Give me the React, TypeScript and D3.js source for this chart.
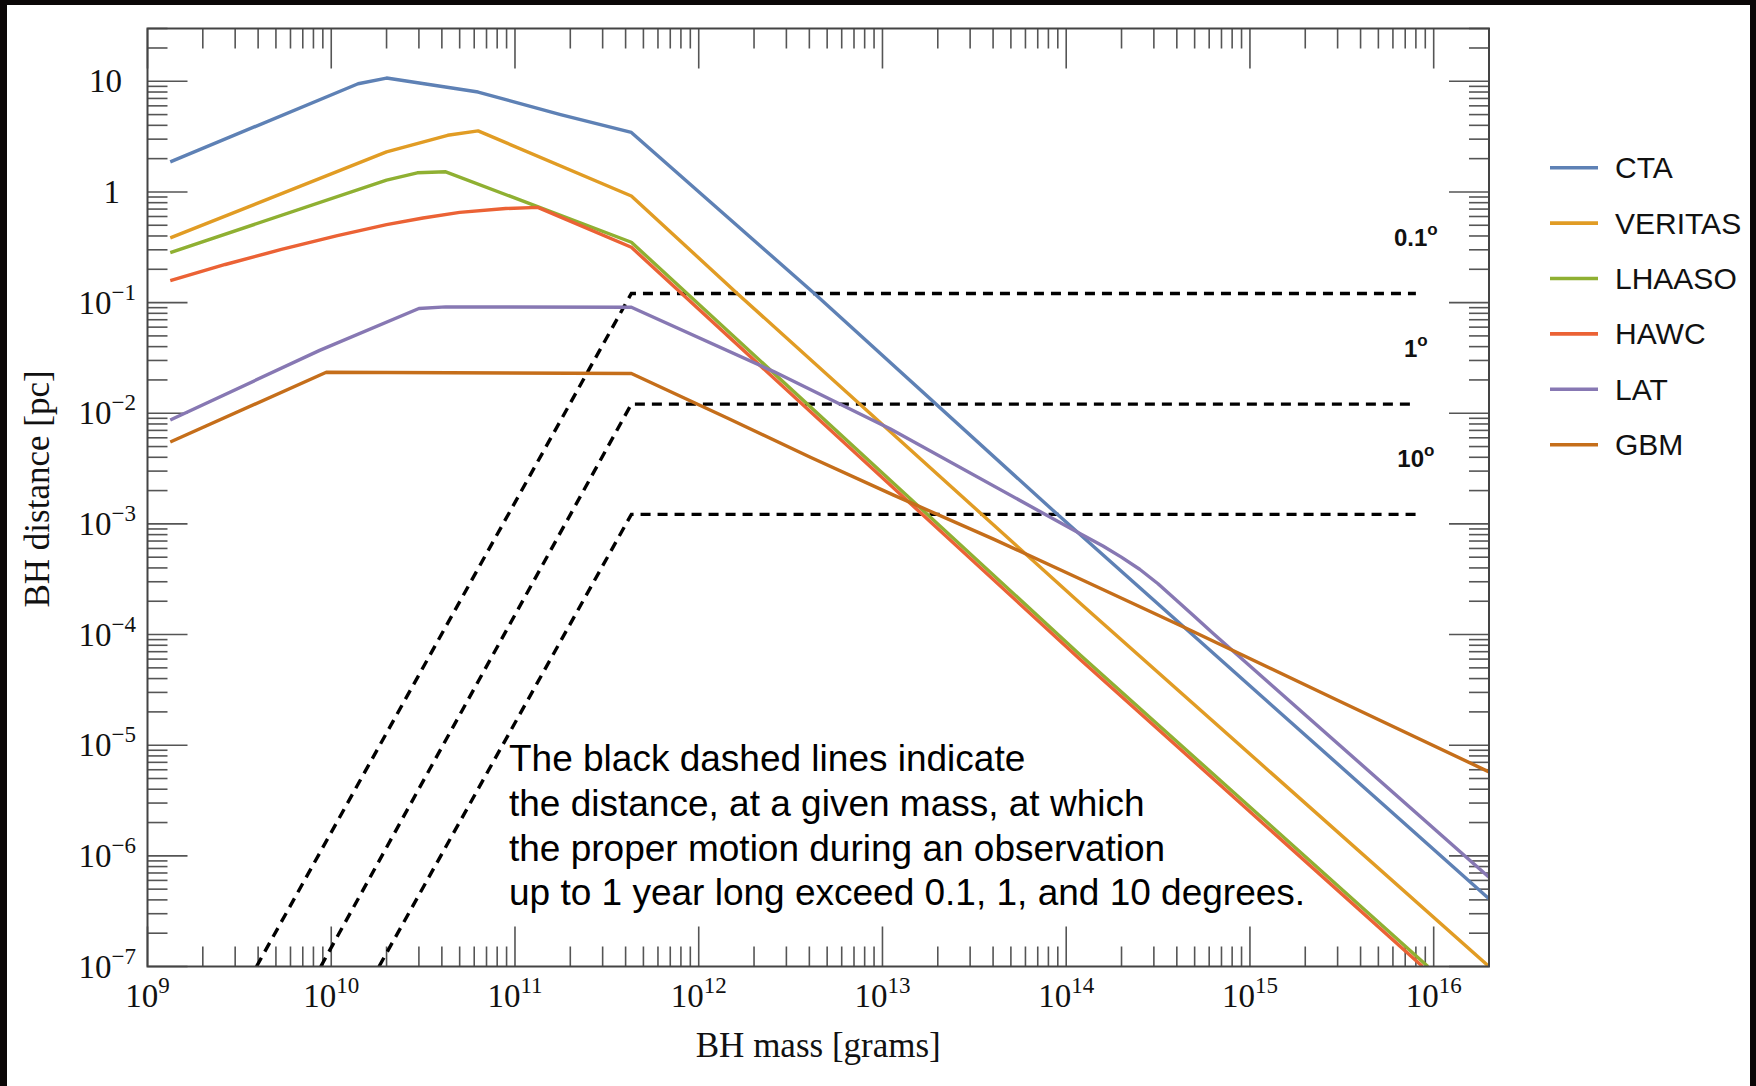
import React from 'react';
import * as d3 from 'd3';

const W = 1756;
const H = 1086;

// ---- data ----
const seriesNames = ['CTA', 'VERITAS', 'LHAASO', 'HAWC', 'LAT', 'GBM'];
const seriesColors = ['#5E81B5', '#E19C24', '#8FB032', '#EB6235', '#8778B3', '#C56E1A'];

const cta: [number, number][] = [
  [1.33e9, 1.87], [1.4e10, 9.5], [2.0e10, 10.7], [6.3e10, 8.0], [1.77e11, 5.0],
  [4.3e11, 3.45], [4.23e12, 0.122], [8.95e13, 1.22e-3], [2.0e16, 4.1e-7],
];
const veritas: [number, number][] = [
  [1.33e9, 0.384], [2.0e10, 2.3], [4.3e10, 3.25], [6.3e10, 3.56], [4.3e11, 0.92],
  [1.62e12, 0.121], [1.2e14, 1.9e-4], [2.0e16, 1.0e-7],
];
const lhaaso: [number, number][] = [
  [1.33e9, 0.283], [2.0e10, 1.28], [2.94e10, 1.49], [4.2e10, 1.52], [4.3e11, 0.351],
  [1.2e14, 6.47e-5], [9.3e15, 1.0e-7],
];
const hawc: [number, number][] = [
  [1.33e9, 0.158], [2.65e9, 0.221], [5.36e9, 0.302], [1.08e10, 0.403], [2.0e10, 0.507],
  [3.16e10, 0.582], [5.0e10, 0.653], [8.9e10, 0.708], [1.33e11, 0.726], [4.3e11, 0.316],
  [1.2e14, 5.9e-5], [8.7e15, 1.0e-7],
];
const lat: [number, number][] = [
  [1.33e9, 8.7e-3], [8.65e9, 0.037], [3.0e10, 0.0885], [4.2e10, 0.0914], [4.3e11, 0.0908],
  [2.56e12, 0.0238], [1.1e13, 7.24e-3], [1.2e14, 8.1e-4], [1.585e14, 6.31e-4],
  [1.995e14, 5.01e-4], [2.51e14, 3.89e-4], [3.16e14, 2.88e-4], [3.98e14, 2.04e-4],
  [5.01e14, 1.445e-4], [6.31e14, 1.023e-4], [2.0e16, 6.4e-7],
];
const gbm: [number, number][] = [
  [1.33e9, 5.5e-3], [9.4e9, 0.0235], [4.3e11, 0.0229], [1.43e12, 9.06e-3], [4.05e12, 4.0e-3],
  [1.15e13, 1.82e-3], [4.05e13, 7.24e-4], [1.2e14, 3.16e-4], [4.44e14, 1.15e-4],
  [2.88e15, 2.63e-5], [2.0e16, 5.74e-6],
];
const seriesData = [cta, veritas, lhaaso, hawc, lat, gbm];

const dashed01: [number, number][] = [[3.92e9, 1e-7], [4.3e11, 0.121], [8.0e15, 0.121]];
const dashed1: [number, number][] = [[8.77e9, 1e-7], [4.3e11, 0.0121], [8.0e15, 0.0121]];
const dashed10: [number, number][] = [[1.82e10, 1e-7], [4.3e11, 0.00122], [8.0e15, 0.00122]];
const dashedData = [dashed01, dashed1, dashed10];
const angleLabels = ['0.1', '1', '10'];
const angleLevels = [0.121, 0.0121, 0.00122];
const angleLabelMass = 8.0e15;

const xTickExponents = [9, 10, 11, 12, 13, 14, 15, 16];
const yTickExponents = [1, 0, -1, -2, -3, -4, -5, -6, -7];

const annotationLines = [
  'The black dashed lines indicate',
  'the distance, at a given mass, at which',
  'the proper motion during an observation',
  'up to 1 year long exceed 0.1, 1, and 10 degrees.',
];

const xTitle = 'BH mass [grams]';
const yTitle = 'BH distance [pc]';

// ---- layout ----
const L = 147.5, R = 1489, T = 28.5, B = 966.5;
const SERIF = '"Liberation Serif", "Times New Roman", serif';
const SANS = '"Liberation Sans", Arial, sans-serif';

export default function App() {
  const x = d3.scaleLog().domain([1e9, 2e16]).range([L, R]);
  const y = d3.scaleLog().domain([1e-7, 30]).range([B, T]);
  const line = d3.line<[number, number]>().x(d => x(d[0])).y(d => y(d[1]));

  const isPow10 = (v: number) => Math.abs(Math.log10(v) - Math.round(Math.log10(v))) < 1e-9;
  const xt = x.ticks(100).filter(v => v >= 1e9 && v <= 2e16);
  const yt = y.ticks(100).filter(v => v >= 1e-7 && v <= 30);
  const tickColor = '#555';
  const major = 40, minor = 20;

  return (
    <svg width={W} height={H} style={{ position: 'absolute', left: 0, top: 0 }}>
      <rect x={0} y={0} width={W} height={H} fill="#fff" />
      <defs>
        <clipPath id="plotclip">
          <rect x={L} y={T} width={R - L} height={B - T} />
        </clipPath>
      </defs>

      {/* ticks */}
      <g stroke={tickColor} strokeWidth={1.6}>
        {xt.map((v, i) => {
          const len = isPow10(v) ? major : minor;
          const px = x(v);
          return (
            <g key={'xt' + i}>
              <line x1={px} x2={px} y1={B} y2={B - len} />
              <line x1={px} x2={px} y1={T} y2={T + len} />
            </g>
          );
        })}
        {yt.map((v, i) => {
          const len = isPow10(v) ? major : minor;
          const py = y(v);
          return (
            <g key={'yt' + i}>
              <line x1={L} x2={L + len} y1={py} y2={py} />
              <line x1={R} x2={R - len} y1={py} y2={py} />
            </g>
          );
        })}
      </g>

      {/* dashed lines */}
      <g clipPath="url(#plotclip)">
        {dashedData.map((d, i) => (
          <path key={'d' + i} d={line(d) || ''} fill="none" stroke="#000" strokeWidth={3.4} strokeDasharray="10 7" />
        ))}
      </g>

      {/* series */}
      <g clipPath="url(#plotclip)">
        {seriesData.map((d, i) => (
          <path key={'s' + i} d={line(d) || ''} fill="none" stroke={seriesColors[i]} strokeWidth={3.4} strokeLinejoin="round" />
        ))}
      </g>

      {/* frame */}
      <rect x={L} y={T} width={R - L} height={B - T} fill="none" stroke="#444" strokeWidth={2} />

      {/* tick labels */}
      <g fontFamily={SERIF} fontSize={33} fill="#111">
        {xTickExponents.map(e => (
          <text key={'xl' + e} x={x(Math.pow(10, e))} y={1007} textAnchor="middle">
            10<tspan fontSize={23} dy={-14}>{e}</tspan>
          </text>
        ))}
        {yTickExponents.map(e => {
          const py = y(Math.pow(10, e)) + 11;
          if (e === 1) return <text key={'yl' + e} x={122} y={py} textAnchor="end">10</text>;
          if (e === 0) return <text key={'yl' + e} x={120} y={py} textAnchor="end">1</text>;
          return (
            <text key={'yl' + e} x={136} y={py} textAnchor="end">
              10<tspan fontSize={23} dy={-14}>{'\u2212' + Math.abs(e)}</tspan>
            </text>
          );
        })}
      </g>

      {/* axis titles */}
      <text x={(L + R) / 2} y={1057} textAnchor="middle" fontFamily={SERIF} fontSize={35} fill="#111">{xTitle}</text>
      <text transform={`translate(49, 489) rotate(-90)`} textAnchor="middle" fontFamily={SERIF} fontSize={35} fill="#111">{yTitle}</text>

      {/* angle labels */}
      <g fontFamily={SANS} fontWeight="bold" fontSize={24} fill="#111">
        {angleLabels.map((t, i) => (
          <text key={'al' + i} x={x(angleLabelMass)} y={y(angleLevels[i]) - 47} textAnchor="middle">
            {t}<tspan fontSize={17} dy={-11}>o</tspan>
          </text>
        ))}
      </g>

      {/* annotation */}
      <g fontFamily={SANS} fontSize={37} fill="#000">
        {annotationLines.map((t, i) => (
          <text key={'an' + i} x={509} y={771 + i * 44.8}>{t}</text>
        ))}
      </g>

      {/* legend */}
      <g>
        {seriesNames.map((n, i) => {
          const ly = 167.7 + i * 55.4;
          return (
            <g key={'lg' + i}>
              <line x1={1550} x2={1598} y1={ly} y2={ly} stroke={seriesColors[i]} strokeWidth={3.6} />
              <text x={1615} y={ly + 10.5} fontFamily={SANS} fontSize={30} fill="#111">{n}</text>
            </g>
          );
        })}
      </g>

      {/* black border of the picture */}
      <rect x={0} y={0} width={7} height={H} fill="#0b0707" />
      <rect x={0} y={0} width={W} height={5} fill="#0b0707" />
      <rect x={1750} y={0} width={6} height={H} fill="#0b0707" />
    </svg>
  );
}
